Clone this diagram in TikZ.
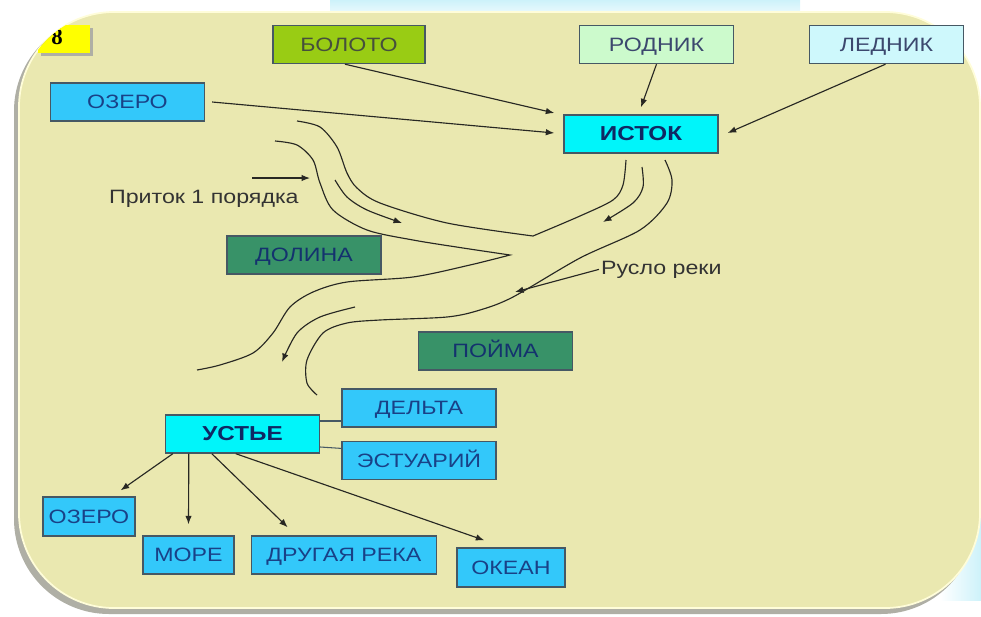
\documentclass[tikz,border=0pt]{standalone}
\usepackage{fontspec}
\setmainfont[FakeStretch=1.2]{Liberation Sans}
\newfontfamily\tabfont{Liberation Serif}
\usetikzlibrary{arrows.meta, positioning, calc}

\definecolor{paper}{RGB}{234,232,176}
\definecolor{rimgray}{RGB}{175,175,165}
\definecolor{glow}{RGB}{205,242,250}
\definecolor{tabyellow}{RGB}{255,255,0}
\definecolor{boxline}{RGB}{70,88,100}
\definecolor{linecol}{RGB}{40,40,35}
\definecolor{swampgreen}{RGB}{153,204,20}
\definecolor{swamptext}{RGB}{70,80,60}
\definecolor{springgreen}{RGB}{204,250,204}
\definecolor{glacierblue}{RGB}{206,248,252}
\definecolor{paletext}{RGB}{60,72,110}
\definecolor{lakeblue}{RGB}{51,200,250}
\definecolor{bluetext}{RGB}{25,65,135}
\definecolor{keycyan}{RGB}{0,245,250}
\definecolor{keytext}{RGB}{15,40,100}
\definecolor{landgreen}{RGB}{56,146,104}
\definecolor{landtext}{RGB}{20,50,110}

\begin{document}
\begin{tikzpicture}[x=0.02cm, y=-0.02cm,
    rbox/.style={draw=boxline, line width=0.8pt, minimum width=3.08cm, minimum height=0.76cm,
      inner sep=1pt, text height=7.9pt, text depth=0pt, font=\fontsize{11}{13}\selectfont},
    srcbox/.style={rbox, text=paletext},
    lakebox/.style={rbox, fill=lakeblue, text=bluetext},
    landbox/.style={rbox, fill=landgreen, text=landtext},
    keybox/.style={rbox, fill=keycyan, text=keytext, font=\fontsize{11.5}{13}\selectfont\bfseries},
    note/.style={inner sep=1pt, text=black!80, font=\fontsize{11}{13}\selectfont},
    arr/.style={-{Latex[length=1.7mm,width=1.3mm]}, line width=0.65pt, draw=linecol},
    bank/.style={line width=0.65pt, draw=linecol},
    link/.style={line width=0.6pt, draw=boxline}]
    \useasboundingbox (0,0) rectangle (981,616);

    % Frame of the slide
    \shade[top color=glow, bottom color=white] (330,0) rectangle (800,22);
    \shade[left color=white, right color=glow] (940,430) rectangle (981,600);
    \fill[rimgray, rounded corners=1.9cm] (14,16) rectangle (976,614);
    \fill[paper, draw=yellow!15!white, line width=1pt, rounded corners=1.9cm] (19,12) rectangle (980,608);
    \begin{scope}
        \clip[rounded corners=1.9cm] (19,12) rectangle (980,608);
        \fill[rimgray] (41,28) rectangle (93,56);
        \node[fill=tabyellow, minimum width=1.04cm, minimum height=0.56cm, inner sep=0pt, anchor=north west] (tab) at (38,25) {};
        \node[font=\tabfont\bfseries\fontsize{13}{13}\selectfont, inner sep=0pt] (tabnum) at (57,37) {8};
    \end{scope}

    % Define nodes (sources, river parts, mouths)
    \node[srcbox, fill=swampgreen, text=swamptext, minimum width=3.04cm] (swamp) at (349,44.5) {БОЛОТО};
    \node[srcbox, fill=springgreen] (spring) at (656.5,44.5) {РОДНИК};
    \node[srcbox, fill=glacierblue] (glacier) at (886.5,44.5) {ЛЕДНИК};
    \node[lakebox] (lake) at (127.5,102) {ОЗЕРО};
    \node[keybox] (source) at (641,134) {ИСТОК};

    \node[landbox] (valley) at (304,255) {ДОЛИНА};
    \node[landbox] (plain) at (495.5,351) {ПОЙМА};

    \node[lakebox] (delta) at (419,408) {ДЕЛЬТА};
    \node[lakebox, below=0.26cm of delta] (estuary) {ЭСТУАРИЙ};
    \node[keybox] (mouth) at (242.5,434) {УСТЬЕ};

    \node[lakebox, minimum width=1.84cm, minimum height=0.78cm] (lake2) at (89,516.5) {ОЗЕРО};
    \node[lakebox, minimum width=1.82cm] (sea) at (188.5,555) {МОРЕ};
    \node[lakebox, minimum width=3.7cm, right=0.32cm of sea] (river2) {ДРУГАЯ РЕКА};
    \node[lakebox, minimum width=2.16cm, minimum height=0.78cm] (ocean) at (511,567.5) {ОКЕАН};

    \node[note, anchor=base west] (tributary) at (107,203) {Приток 1 порядка};
    \node[note, anchor=base west] (bed) at (599,274) {Русло реки};
    \coordinate (bedtip) at (515,292);
    \coordinate (tribtail) at (252,178);
    \coordinate (tribtip) at (310,178);

    % Draw connections
    \draw[arr] ($(swamp.south)+(-4,0)$) -- ($(source.west)+(-9,-21)$);
    \draw[arr] ($(lake.east)+(7,0)$) -- ($(source.west)+(-9,-1)$);
    \draw[arr] (spring.south) -- ($(source.north)+(0,-7)$);
    \draw[arr] ($(glacier.south)+(-1,0)$) -- ($(source.east)+(9,-1)$);

    \draw[link] ($(mouth.east)+(0,-13)$) -- ($(delta.west)+(0,13)$);
    \draw[link] ($(mouth.east)+(0,13)$) -- ($(estuary.west)+(0,-12)$);
    \draw[arr] ($(mouth.south west)+(8,0)$) -- ($(lake2.north east)+(-15,-6)$);
    \draw[arr] ($(mouth.south west)+(24,0)$) -- ($(sea.north)+(0,-11)$);
    \draw[arr] ($(mouth.south west)+(47,0)$) -- ($(river2.north west)+(37,-8)$);
    \draw[arr] ($(mouth.south west)+(71,0)$) -- ($(ocean.north west)+(28,-7)$);

    \draw[arr] (tribtail) -- (tribtip);
    \draw[arr] (bed.west) -- (bedtip);

    % River banks
    \draw[bank] plot[smooth] coordinates {(297,121) (320,127) (337,147) (347,173) (357,188) (380,203) (447,223) (533,236)}
        -- plot[smooth] coordinates {(533,236) (580,216) (613,200) (623,185) (626,160)};
    \draw[bank] plot[smooth] coordinates {(275,141) (297,145) (313,160) (320,183) (333,210) (367,230) (413,240) (463,248) (510,255)}
        -- plot[smooth] coordinates {(510,255) (470,265) (413,277) (347,282) (313,292) (290,307) (273,333) (253,353) (220,365) (197,370)};
    \draw[bank] plot[smooth] coordinates {(665,160) (672,180) (667,203) (640,230) (580,258) (513,297) (480,310) (447,317) (380,320) (347,323) (323,333) (307,360) (307,383) (317,395)};
    \draw[arr] plot[smooth] coordinates {(335,180) (347,197) (367,210) (402,223)};
    \draw[arr] plot[smooth] coordinates {(642,167) (643,187) (633,203) (603,222)};
    \draw[arr] plot[smooth] coordinates {(355,307) (320,317) (297,333) (282,362)};
\end{tikzpicture}
\end{document}
